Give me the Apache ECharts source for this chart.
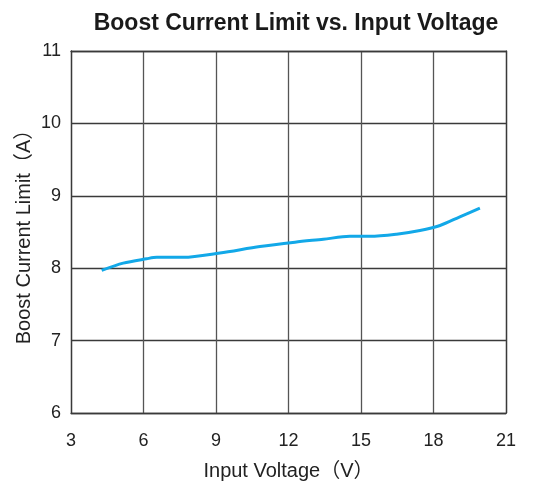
<!DOCTYPE html>
<html>
<head>
<meta charset="utf-8">
<script src="https://cdn.jsdelivr.net/npm/echarts@6/dist/echarts.min.js"></script>
<style>
  html, body { margin: 0; padding: 0; background: #fff; }
  #chart { width: 534px; height: 485px; }
</style>
</head>
<body>
<div id="chart"></div>
<script>
  // ── Data ──
  var voltage = [4.27, 5.16, 6.13, 6.55, 7.65, 9.16, 10.82, 12.27, 13.44, 14.54, 15.37, 16.47, 17.44, 18.27, 19.09, 19.92];
  var currentLimit = [7.97, 8.07, 8.13, 8.15, 8.15, 8.21, 8.30, 8.36, 8.40, 8.44, 8.44, 8.47, 8.52, 8.59, 8.71, 8.83];

  var GRID_COLOR = '#3a3a3a';
  var FONT = '"Liberation Sans", Arial, "Noto Sans CJK SC", sans-serif';

  function borderAxis(pos, min, max) {
    return {
      type: 'value', position: pos, min: min, max: max,
      axisLine: { show: true, onZero: false, lineStyle: { color: GRID_COLOR, width: 1.3 } },
      axisLabel: { show: false }, axisTick: { show: false }, splitLine: { show: false }
    };
  }

  var chart = echarts.init(document.getElementById('chart'), null, { renderer: 'canvas' });
  chart.setOption({
    animation: false,
    title: {
      text: 'Boost Current Limit vs. Input Voltage',
      left: 291,
      textAlign: 'center',
      top: 7,
      textStyle: { fontFamily: FONT, fontSize: 23, fontWeight: 'bold', color: '#1a1a1a' }
    },
    grid: { left: 71, right: 28, top: 51, bottom: 72, containLabel: false, outerBoundsMode: 'none' },
    xAxis: [{
      type: 'value',
      min: 3, max: 21, interval: 3,
      name: 'Input Voltage（V）',
      nameLocation: 'middle',
      nameGap: 48,
      nameTextStyle: { fontFamily: FONT, fontSize: 20, color: '#222' },
      axisLine: { show: true, lineStyle: { color: GRID_COLOR, width: 1.3 } },
      axisTick: { show: false },
      axisLabel: { fontFamily: FONT, fontSize: 18, color: '#222', margin: 19 },
      splitLine: { show: true, lineStyle: { color: '#555', width: 1.3 } }
    }, borderAxis('top', 3, 21)],
    yAxis: [{
      type: 'value',
      min: 6, max: 11, interval: 1,
      name: 'Boost Current Limit（A）',
      nameLocation: 'middle',
      nameGap: 37,
      nameMoveOverlap: false,
      nameTextStyle: { fontFamily: FONT, fontSize: 20, color: '#222' },
      axisLine: { show: true, lineStyle: { color: GRID_COLOR, width: 1.3 } },
      axisTick: { show: false },
      axisLabel: { fontFamily: FONT, fontSize: 18, color: '#222', margin: 10 },
      splitLine: { show: true, lineStyle: { color: GRID_COLOR, width: 1.3 } }
    }, borderAxis('right', 6, 11)],
    series: [{
      type: 'line',
      data: voltage.map(function (v, i) { return [v, currentLimit[i]]; }),
      smooth: 0.3,
      symbol: 'none',
      lineStyle: { color: '#12a8e8', width: 3 }
    }]
  });
</script>
</body>
</html>
